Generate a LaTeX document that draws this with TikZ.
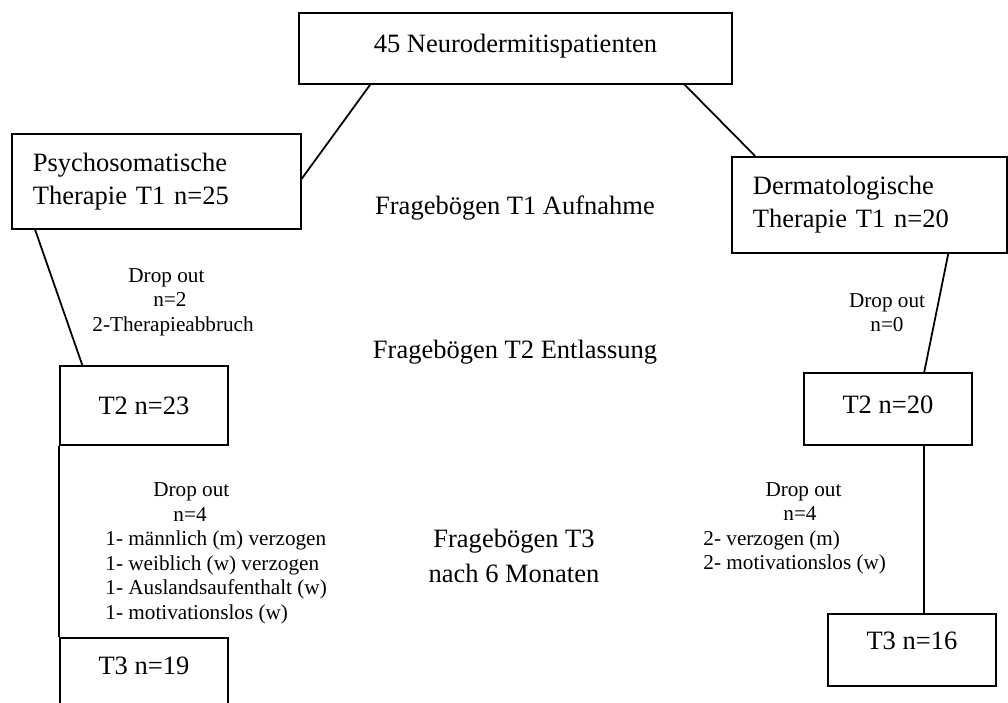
\documentclass[tikz,border=0pt]{standalone}
\usepackage{fontspec}
\setmainfont{Liberation Serif}
\usepackage{tikz}
\usetikzlibrary{calc}

\begin{document}
\begin{tikzpicture}[x=0.4528pt, y=-0.4528pt,
        box/.style={draw, line width=0.8pt, anchor=north west, inner ysep=0pt, font=\fontsize{12}{15}\selectfont},
        link/.style={line width=0.8pt},
        big/.style={font=\fontsize{12}{15.8}\selectfont, align=center},
        small/.style={font=\fontsize{9.6}{11.1}\selectfont, inner sep=0pt}]
        \useasboundingbox (0,0) rectangle (1008,702);
        \node[box, minimum width=196.1pt, text height=18.1pt, text depth=14pt] (Top) at (298,12) {45 Neurodermitispatienten};
        \node[box, minimum height=43pt, text width=111.8pt, inner xsep=9.5pt, align=left] (PS) at (11,133) {Psychosomatische\\Therapie T1 n=25};
        \node[box, minimum height=43.5pt, text width=105.5pt, inner xsep=9.5pt, align=left] (DM) at (731,156) {Dermatologische\\Therapie T1 n=20};
        \node[box, minimum width=76.1pt, text height=22.2pt, text depth=13.6pt] (PS2) at (59,365) {T2 n=23};
        \node[box, minimum width=76.1pt, text height=18.6pt, text depth=14pt] (DM2) at (803,372) {T2 n=20};
        \node[box, minimum width=76.1pt, text height=16.8pt, text depth=27.2pt] (PS3) at (59,637) {T3 n=19};
        \node[box, minimum width=76.1pt, text height=16.3pt, text depth=16.3pt] (DM3) at (827,613) {T3 n=16};
        \node[big] (FragA) at (515,208) {Fragebögen T1 Aufnahme};
        \node[big] (FragB) at (515,352) {Fragebögen T2 Entlassung};
        \node[big] (FragC) at (514,555.5) {Fragebögen T3\\nach 6 Monaten};
        \node[small, align=left, anchor=west] (DropA) at (92,302) {\hspace*{16.3pt}Drop out\\\hspace*{27.6pt}n=2\\2-Therapieabbruch};
        \node[small, align=center] (DropB) at (887,312.5) {Drop out\\n=0};
        \node[small, align=left, anchor=west] (DropC) at (105,553.5) {\hspace*{21.7pt}Drop out\\\hspace*{30.8pt}n=4\\1- männlich (m) verzogen\\1- weiblich (w) verzogen\\1- Auslandsaufenthalt (w)\\1- motivationslos (w)};
        \node[small, align=left, anchor=west] (DropD) at (703,528.5) {\hspace*{28.1pt}Drop out\\\hspace*{36.2pt}n=4\\2- verzogen (m)\\2- motivationslos (w)};
        \draw[link] ($(Top.south west)!0.166!(Top.south east)$) -- ($(PS.north east)!0.474!(PS.south east)$);
        \draw[link] ($(Top.south west)!0.889!(Top.south east)$) -- ($(DM.north west)!0.087!(DM.north east)$);
        \draw[link] ($(PS.south west)!0.083!(PS.south east)$) -- ($(PS2.north west)!0.137!(PS2.north east)$);
        \draw[link] ($(DM.south west)!0.785!(DM.south east)$) -- ($(DM2.north west)!0.714!(DM2.north east)$);
        \draw[link] (PS2.south west) -- (PS3.north west);
        \draw[link] ($(DM2.south west)!0.714!(DM2.south east)$) coordinate (DMout) -- (DMout |- DM3.north);
\end{tikzpicture}
\end{document}
